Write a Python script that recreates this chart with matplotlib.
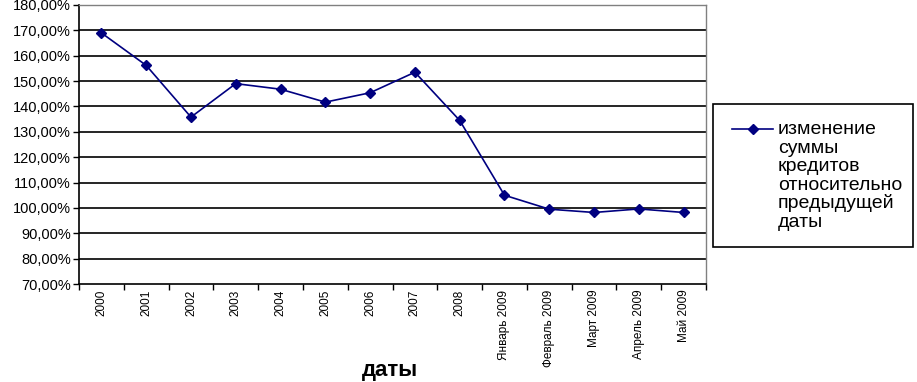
import numpy as np
import matplotlib.pyplot as plt
from matplotlib.lines import Line2D
from matplotlib.patches import Rectangle
from matplotlib.ticker import FixedLocator, FuncFormatter

plt.rcParams['font.family'] = ['Liberation Sans', 'DejaVu Sans']

# data
labels = ['2000', '2001', '2002', '2003', '2004', '2005', '2006', '2007', '2008',
          'Январь 2009', 'Февраль 2009', 'Март 2009', 'Апрель 2009', 'Май 2009']
values = [169.0, 156.2, 135.8, 149.0, 146.8, 141.7, 145.4, 153.5, 134.5,
          105.0, 99.5, 98.2, 99.6, 98.2]
legend_lines = ['изменение', 'суммы', 'кредитов', 'относительно', 'предыдущей', 'даты']

W, H = 917, 382
fig = plt.figure(figsize=(W / 100, H / 100), dpi=100)
ax = fig.add_axes([79/W, 1-284/H, (706-79)/W, (284-5)/H])

x = np.arange(len(labels))
ax.plot(x, values, color='#000080', lw=1.2, marker='D', ms=5,
        markerfacecolor='#000080', markeredgecolor='#000080')

ax.set_xlim(-0.5, len(labels) - 0.5)
ax.set_ylim(70, 180)
ax.set_yticks(np.arange(70, 181, 10))
ax.yaxis.set_major_formatter(FuncFormatter(lambda v, p: f'{v:.2f}%'.replace('.', ',')))
for yv in range(80, 180, 10):
    ax.axhline(yv, color='black', lw=1.2, zorder=0)

ax.set_xticks(x)
ax.set_xticklabels(labels, rotation=90, fontsize=8.5)
ax.tick_params(axis='x', which='major', length=0, pad=4)
ax.xaxis.set_minor_locator(FixedLocator(np.arange(-0.5, len(labels), 1.0)))
ax.tick_params(axis='x', which='minor', length=4, width=1, direction='out')
ax.tick_params(axis='y', length=4, width=1, direction='out', labelsize=10.5, pad=2)

for s in ['left', 'bottom']:
    ax.spines[s].set_color('black')
    ax.spines[s].set_linewidth(1.2)
for s in ['top', 'right']:
    ax.spines[s].set_color('#808080')
    ax.spines[s].set_linewidth(1.0)

fig.text(390/W, 1-376/H, 'даты', ha='center', va='baseline',
         fontsize=16, fontweight='bold')

# legend drawn by hand, Excel style
fig.patches.append(Rectangle((713/W, 1-247/H), 200/W, 143/H, transform=fig.transFigure,
                             facecolor='white', edgecolor='black', lw=1.2))
fig.add_artist(Line2D([732/W, 773/W], [1-129/H, 1-129/H], color='#000080', lw=1.2))
fig.add_artist(Line2D([752.5/W], [1-129/H], color='#000080', marker='D', ms=5))
for i, t in enumerate(legend_lines):
    fig.text(778/W, 1-(134 + i*18.6)/H, t, ha='left', va='baseline', fontsize=14)

fig.savefig('out.png', dpi=100)
